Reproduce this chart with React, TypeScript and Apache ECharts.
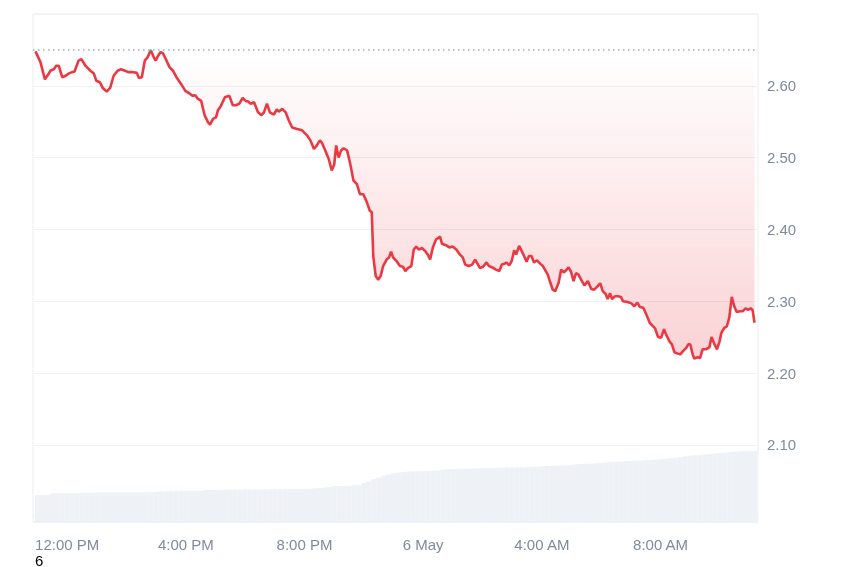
import React, { useEffect, useRef } from "react";
import * as echarts from "echarts";

// Minutes relative to 12:00 PM on 5 May
const priceMinutes = [
  -64, -54, -45, -37, -34, -27, -22, -17, -10, -3,
  3, 10, 15, 23, 29, 37, 47, 54, 59, 66,
  72, 80, 87, 94, 102, 109, 117, 124, 134, 141,
  145, 151, 157, 163, 169, 175, 179, 184, 189, 194,
  201, 207, 214, 221, 230, 239, 248, 254, 259, 264,
  271, 278, 285, 289, 295, 301, 305, 311, 319, 328,
  335, 341, 348, 355, 361, 366, 371, 378, 386, 393,
  398, 404, 410, 418, 424, 428, 435, 442, 448, 455,
  465, 475, 485, 492, 499, 505, 511, 515, 522, 529,
  535, 540, 544, 549, 554, 559, 566, 572, 579, 586,
  592, 599, 606, 612, 616, 619, 624, 629, 634, 639,
  646, 651, 655, 659, 666, 673, 679, 684, 689, 696,
  701, 706, 711, 718, 725, 730, 734, 740, 746, 754,
  758, 766, 773, 780, 787, 793, 800, 805, 812, 819,
  825, 830, 835, 841, 848, 853, 860, 867, 874, 879,
  884, 888, 894, 899, 904, 908, 914, 919, 924, 929,
  934, 939, 944, 950, 957, 962, 967, 972, 977, 982,
  987, 994, 999, 1004, 1009, 1014, 1019, 1024, 1029, 1034,
  1041, 1046, 1053, 1060, 1066, 1073, 1078, 1083, 1089, 1093,
  1098, 1102, 1108, 1114, 1120, 1124, 1133, 1141, 1147, 1153,
  1158, 1165, 1171, 1178, 1185, 1189, 1195, 1201, 1207, 1211,
  1218, 1223, 1228, 1235, 1240, 1245, 1252, 1256, 1260, 1265,
  1268, 1275, 1280, 1285, 1292, 1299, 1303, 1309, 1314, 1319,
  1323, 1329, 1334, 1339, 1344, 1349, 1354, 1361, 1366, 1372,
  1377, 1382, 1386, 1390,
];

const prices = [
  2.648, 2.633, 2.609, 2.617, 2.621, 2.623, 2.628, 2.628, 2.612, 2.614,
  2.617, 2.619, 2.62, 2.635, 2.637, 2.628, 2.621, 2.617, 2.607, 2.605,
  2.597, 2.592, 2.597, 2.614, 2.621, 2.623, 2.621, 2.619, 2.619, 2.618,
  2.611, 2.612, 2.635, 2.64, 2.65, 2.64, 2.635, 2.642, 2.647, 2.645,
  2.635, 2.626, 2.621, 2.612, 2.603, 2.593, 2.589, 2.586, 2.587, 2.582,
  2.579, 2.559, 2.549, 2.546, 2.554, 2.556, 2.566, 2.572, 2.584, 2.586,
  2.573, 2.573, 2.575, 2.583, 2.579, 2.578, 2.575, 2.577, 2.563, 2.559,
  2.563, 2.575, 2.563, 2.56, 2.567, 2.564, 2.568, 2.563, 2.552, 2.542,
  2.54, 2.538, 2.531, 2.524, 2.512, 2.517, 2.524, 2.521, 2.51, 2.498,
  2.482, 2.49, 2.517, 2.5, 2.51, 2.513, 2.51, 2.493, 2.468, 2.463,
  2.449, 2.449, 2.438, 2.426, 2.424, 2.363, 2.335, 2.33, 2.335, 2.349,
  2.358, 2.361, 2.369, 2.361, 2.356, 2.349, 2.348, 2.342, 2.346, 2.349,
  2.372, 2.376, 2.372, 2.374, 2.369, 2.364, 2.358, 2.376, 2.386, 2.39,
  2.38, 2.378, 2.375, 2.376, 2.372, 2.366, 2.361, 2.351, 2.349, 2.351,
  2.358, 2.352, 2.346, 2.348, 2.354, 2.349, 2.347, 2.344, 2.342, 2.351,
  2.352, 2.354, 2.35, 2.356, 2.371, 2.365, 2.377, 2.37, 2.363, 2.355,
  2.363, 2.363, 2.354, 2.357, 2.352, 2.349, 2.343, 2.337, 2.326, 2.316,
  2.314, 2.326, 2.344, 2.34, 2.343, 2.347, 2.341, 2.328, 2.339, 2.337,
  2.328, 2.322, 2.328, 2.317, 2.316, 2.321, 2.325, 2.314, 2.31, 2.303,
  2.311, 2.303, 2.307, 2.307, 2.306, 2.3, 2.299, 2.297, 2.293, 2.298,
  2.292, 2.291, 2.282, 2.27, 2.265, 2.262, 2.25, 2.249, 2.261, 2.254,
  2.244, 2.24, 2.229, 2.227, 2.226, 2.23, 2.235, 2.24, 2.24, 2.226,
  2.22, 2.222, 2.221, 2.233, 2.233, 2.236, 2.25, 2.24, 2.233, 2.243,
  2.256, 2.263, 2.265, 2.277, 2.306, 2.293, 2.285, 2.286, 2.286, 2.29,
  2.288, 2.29, 2.288, 2.27,
];

const openPrice = 2.648;

// Volume (billions), one bar per 10 minutes starting 11:00 AM
const volumeStartMinute = -60;
const volumeStepMinutes = 10;
const volumes = [
  2.7, 2.7, 2.7, 2.87, 2.87, 2.87, 2.87, 2.87, 2.87,
  2.95, 2.95, 2.95, 2.96, 2.96, 2.96, 2.97, 2.97, 2.97, 2.97, 2.98, 2.98, 2.98, 2.98, 3.0, 3.0,
  3.08, 3.08, 3.1, 3.1, 3.1, 3.12, 3.12, 3.12, 3.12,
  3.2, 3.2, 3.22, 3.22, 3.22, 3.24, 3.24, 3.24, 3.26, 3.26, 3.26, 3.26, 3.28, 3.28, 3.28, 3.28, 3.3, 3.3, 3.3, 3.3, 3.32, 3.32,
  3.37, 3.4, 3.45, 3.5, 3.58, 3.6, 3.62, 3.62, 3.68, 3.72, 3.9, 4.05, 4.3, 4.45, 4.65, 4.75, 4.88, 4.95, 5.0,
  5.05, 5.07, 5.08, 5.1, 5.12, 5.14, 5.16,
  5.25, 5.28, 5.3, 5.32, 5.34, 5.36, 5.37, 5.38, 5.4, 5.4, 5.42, 5.42,
  5.45, 5.46, 5.47, 5.48, 5.49, 5.5, 5.52, 5.54,
  5.58, 5.6, 5.62, 5.64, 5.66, 5.68, 5.72,
  5.78, 5.82, 5.84, 5.86, 5.88, 5.92, 5.96,
  6.0, 6.02, 6.05, 6.08, 6.1, 6.12, 6.15, 6.18, 6.22, 6.26,
  6.3, 6.34, 6.38, 6.42, 6.5, 6.58,
  6.64, 6.68, 6.72, 6.76, 6.8,
  6.86, 6.9, 6.95, 7.0,
  7.05, 7.08, 7.1, 7.1, 7.12,
];

const axisStartMinute = -64;
const axisEndMinute = 1392;

const BASE = new Date(2025, 4, 5, 12, 0, 0).getTime();
const MIN = 60000;
const FONT = '"Liberation Sans", Arial, Helvetica, sans-serif';
const LABEL_COLOR = "#808a9d";

export default function App() {
  const ref = useRef<HTMLDivElement>(null);

  useEffect(() => {
    if (!ref.current) return;
    const chart = echarts.init(ref.current, undefined, { renderer: "svg" });

    const priceData = priceMinutes.map((m, i) => [BASE + m * MIN, prices[i]]);
    const volumeData = volumes.map((v, i) => [
      BASE + (volumeStartMinute + i * volumeStepMinutes) * MIN,
      v,
    ]);

    const option = {
      animation: false,
      grid: {
        left: 33,
        right: 92,
        top: 14,
        bottom: 45,
        show: true,
        borderColor: "#eaedf1",
        borderWidth: 1,
        backgroundColor: "transparent",
      },
      xAxis: {
        type: "time",
        min: BASE + axisStartMinute * MIN,
        max: BASE + axisEndMinute * MIN,
        minInterval: 4 * 3600 * 1000,
        maxInterval: 4 * 3600 * 1000,
        axisLine: { show: false },
        axisTick: { show: false },
        splitLine: { show: false },
        axisLabel: {
          color: LABEL_COLOR,
          fontSize: 15,
          fontFamily: FONT,
          margin: 15,
          formatter: (value: number) => {
            const d = new Date(value);
            const h = d.getHours();
            if (h === 0) return d.getDate() + " May";
            const h12 = h % 12 === 0 ? 12 : h % 12;
            return h12 + ":00 " + (h < 12 ? "AM" : "PM");
          },
        },
      },
      yAxis: [
        {
          type: "value",
          position: "right",
          min: 1.9925,
          max: 2.7,
          axisLine: { show: false },
          axisTick: { show: false },
          splitLine: { lineStyle: { color: "#eff1f4", width: 1 } },
          axisLabel: {
            color: LABEL_COLOR,
            fontSize: 15,
            fontFamily: FONT,
            margin: 9,
            formatter: (v: number) => (v > 2.05 && v < 2.65 ? v.toFixed(2) : ""),
          },
        },
        {
          type: "value",
          min: 0,
          max: 50.9,
          show: false,
          splitLine: { show: false },
        },
      ],
      visualMap: {
        type: "piecewise",
        show: false,
        seriesIndex: 1,
        dimension: 1,
        pieces: [
          { gt: 1.5, lte: openPrice, color: "#ea3943" },
          { gt: openPrice, lte: 3.5, color: "#16c784" },
        ],
        outOfRange: { color: "#ea3943" },
      },
      series: [
        {
          type: "bar",
          yAxisIndex: 1,
          data: volumeData,
          barWidth: 5,
          silent: true,
          itemStyle: { color: "#eef1f5" },
          z: 1,
        },
        {
          type: "line",
          yAxisIndex: 0,
          data: priceData,
          showSymbol: false,
          symbol: "none",
          lineStyle: { width: 2.6 },
          areaStyle: {
            origin: openPrice,
            color: new echarts.graphic.LinearGradient(0, 0, 0, 1, [
              { offset: 0, color: "rgba(234,57,67,0)" },
              { offset: 1, color: "rgba(234,57,67,0.32)" },
            ]),
          },
          markLine: {
            silent: true,
            symbol: ["none", "none"],
            label: { show: false },
            lineStyle: { color: "#a3a9b8", type: [1.5, 3.5], width: 1.5 },
            data: [{ yAxis: openPrice }],
          },
          z: 3,
        },
      ],
      graphic: [
        {
          type: "text",
          x: 35,
          y: 560,
          style: {
            text: "6",
            fill: "#000",
            fontSize: 15,
            fontFamily: FONT,
            verticalAlign: "middle",
          },
        },
      ],
    };

    chart.setOption(option as any);
    return () => chart.dispose();
  }, []);

  return (
    <div
      ref={ref}
      style={{ position: "fixed", left: 0, top: 0, width: 850, height: 567 }}
    />
  );
}
